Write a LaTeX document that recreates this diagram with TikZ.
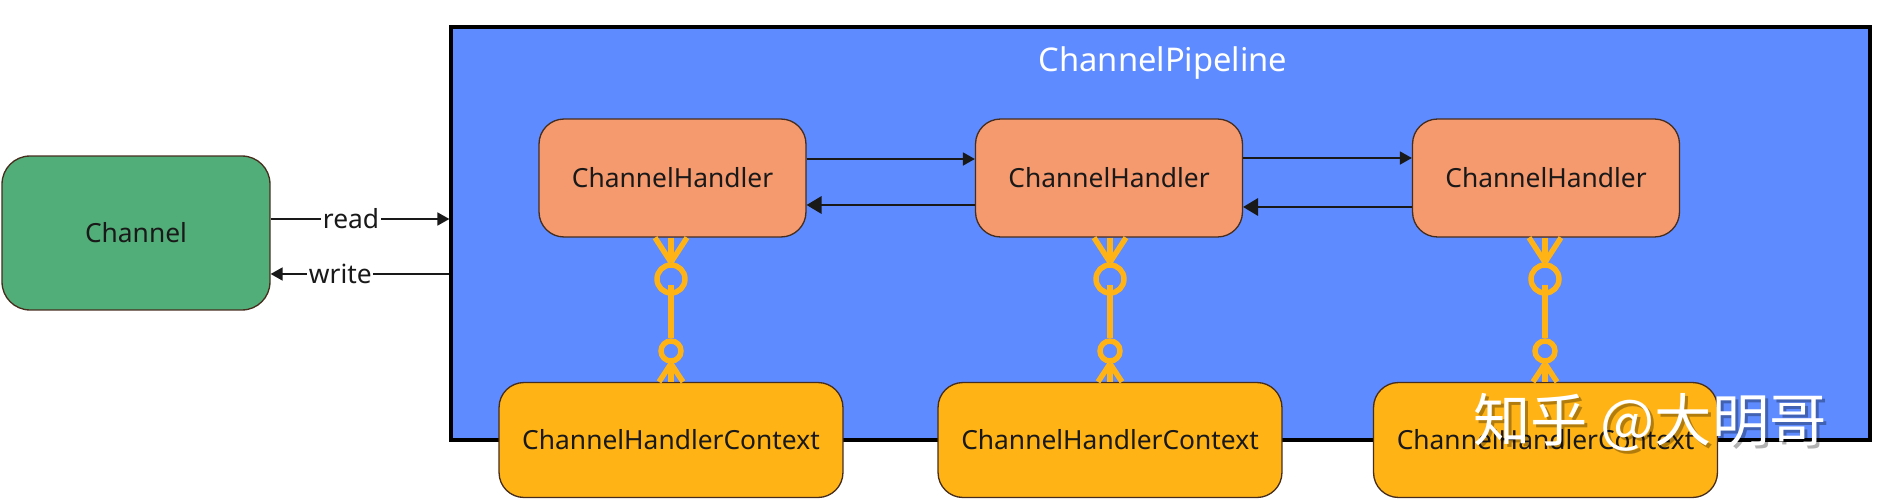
\documentclass[tikz,border=0pt]{standalone}
\usepackage{fontspec}
\setmainfont{Noto Sans}
\newfontfamily\cjkfont{Noto Sans CJK SC}
\usetikzlibrary{arrows.meta}
\definecolor{pipeblue}{RGB}{94,139,255}
\definecolor{handlerorange}{RGB}{245,153,110}
\definecolor{chanpgreen}{RGB}{82,174,120}
\definecolor{ctxyellow}{RGB}{255,179,20}
\definecolor{edgebrown}{RGB}{70,45,30}
\tikzset{
	box/.style={draw=edgebrown,line width=0.75pt,rounded corners=0.5cm,inner sep=0,text=black!90},
	channelbox/.style={box,fill=chanpgreen,minimum width=5.36cm,minimum height=3.08cm,rounded corners=0.56cm,font=\fontsize{15}{18}\selectfont},
	handlerbox/.style={box,fill=handlerorange,minimum width=5.34cm,minimum height=2.36cm,font=\fontsize{15}{18}\selectfont},
	contextbox/.style={box,fill=ctxyellow,minimum width=6.88cm,minimum height=2.3cm,font=\fontsize{15}{18}\selectfont},
	wire/.style={draw=black!90,line width=0.9pt,-{Triangle[length=6.8pt,width=7.4pt]}},
	wirebig/.style={draw=black!90,line width=0.9pt,-{Triangle[length=8.5pt,width=10pt]}},
	link/.style={draw=ctxyellow,line width=3.1pt},
	ringbig/.style={circle,draw=ctxyellow,line width=3.1pt,minimum size=0.56cm,inner sep=0},
	ringsmall/.style={circle,draw=ctxyellow,line width=3.1pt,minimum size=0.4cm,inner sep=0},
	edgelabel/.style={fill=white,inner sep=1pt,font=\fontsize{15}{18}\selectfont,text=black!90},
}
\begin{document}
\begin{tikzpicture}[x=0.02cm,y=-0.02cm]
	\useasboundingbox (0,0) rectangle (1877,500);
	\node[draw=black,fill=pipeblue,line width=2pt,minimum width=28.38cm,minimum height=8.26cm,inner sep=0] (pipe) at (1160.5,233.5) {};
	\node[text=white,font=\fontsize{18.6}{22}\selectfont] (title) at (1163,63) {ChannelPipeline};
	\node[channelbox] (chan) at (136,233) {Channel};
	% read / write
	\coordinate (rd) at ([yshift=0.28cm]chan.east);
	\draw[wire] (rd) -- node[edgelabel,pos=.45]{read} (rd -| pipe.west);
	\coordinate (wr) at ([yshift=-0.82cm]chan.east);
	\draw[wire] (wr -| pipe.west) -- node[edgelabel,pos=.61]{write} (wr);
	% handlers
	\node[handlerbox] (h1) at (672.5,178) {ChannelHandler};
	\node[handlerbox] (h2) at (1109,178) {ChannelHandler};
	\node[handlerbox] (h3) at (1546,178) {ChannelHandler};
	\draw[wire] ([yshift=0.38cm]h1.east) -- ([yshift=0.38cm]h2.west);
	\draw[wirebig] ([yshift=-0.54cm]h2.west) -- ([yshift=-0.54cm]h1.east);
	\draw[wire] ([yshift=0.4cm]h2.east) -- ([yshift=0.4cm]h3.west);
	\draw[wirebig] ([yshift=-0.58cm]h3.west) -- ([yshift=-0.58cm]h2.east);
	% contexts
	\node[contextbox] (c1) at (671,440) {ChannelHandlerContext};
	\node[contextbox] (c2) at (1110,440) {ChannelHandlerContext};
	\node[contextbox] (c3) at (1545.5,440) {ChannelHandlerContext};
	% first link
	\node[ringbig] (a1) at (671,279) {};
	\node[ringsmall] (b1) at (671,351) {};
	\draw[link] (h1.south -| a1) -- (a1.north);
	\draw[link] ([xshift=-0.32cm]h1.south -| a1) -- (a1.north);
	\draw[link] ([xshift=0.32cm]h1.south -| a1) -- (a1.north);
	\draw[link] ([yshift=-0.12cm]a1.center) -- (b1.north);
	\draw[link] (b1.south) -- (c1.north -| b1);
	\draw[link] ([xshift=-0.24cm]c1.north -| b1) -- (b1.south);
	\draw[link] ([xshift=0.24cm]c1.north -| b1) -- (b1.south);
	% second link
	\node[ringbig] (a2) at (1110,279) {};
	\node[ringsmall] (b2) at (1110,351) {};
	\draw[link] (h2.south -| a2) -- (a2.north);
	\draw[link] ([xshift=-0.32cm]h2.south -| a2) -- (a2.north);
	\draw[link] ([xshift=0.32cm]h2.south -| a2) -- (a2.north);
	\draw[link] ([yshift=-0.12cm]a2.center) -- (b2.north);
	\draw[link] (b2.south) -- (c2.north -| b2);
	\draw[link] ([xshift=-0.24cm]c2.north -| b2) -- (b2.south);
	\draw[link] ([xshift=0.24cm]c2.north -| b2) -- (b2.south);
	% third link
	\node[ringbig] (a3) at (1545,279) {};
	\node[ringsmall] (b3) at (1545,351) {};
	\draw[link] (h3.south -| a3) -- (a3.north);
	\draw[link] ([xshift=-0.32cm]h3.south -| a3) -- (a3.north);
	\draw[link] ([xshift=0.32cm]h3.south -| a3) -- (a3.north);
	\draw[link] ([yshift=-0.12cm]a3.center) -- (b3.north);
	\draw[link] (b3.south) -- (c3.north -| b3);
	\draw[link] ([xshift=-0.24cm]c3.north -| b3) -- (b3.south);
	\draw[link] ([xshift=0.24cm]c3.north -| b3) -- (b3.south);
	% watermark
	\node[text=black,opacity=.3,font=\cjkfont\fontsize{32.6}{36}\selectfont] (markshadow) at (1653,425) {知乎 @大明哥};
	\node[text=white,font=\cjkfont\fontsize{32.6}{36}\selectfont] (mark) at (1650,422) {知乎 @大明哥};
\end{tikzpicture}
\end{document}
